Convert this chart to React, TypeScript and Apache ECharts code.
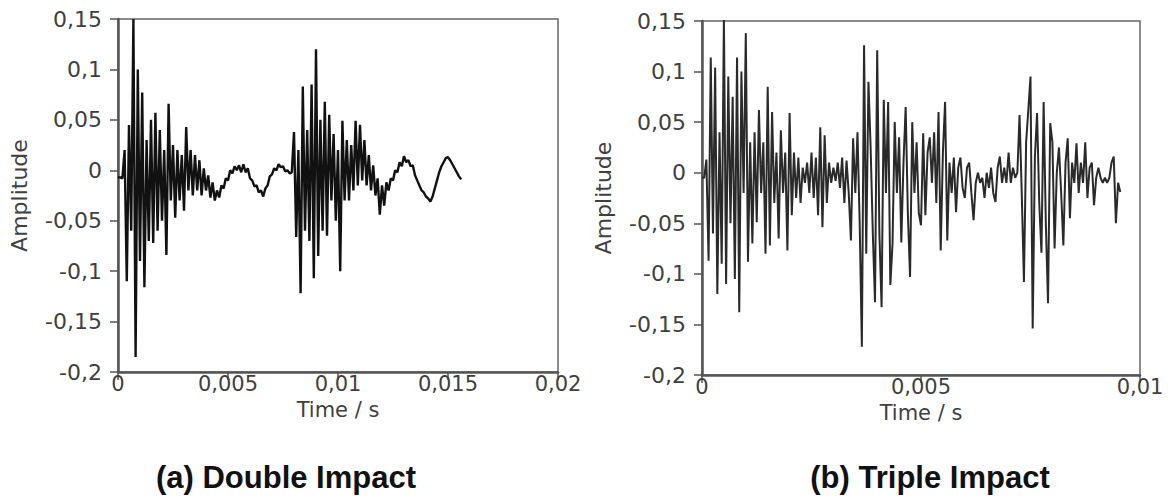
import React, { useEffect, useRef } from "react";
import * as echarts from "echarts";

// Sampling intervals (s)
const dtDouble = 0.0001;
const dtTriple = 0.00005;

// (a) Double impact – amplitude samples
const doubleAmp = [
  -0.007, -0.007, -0.008, 0.02, -0.11, 0.045, -0.06, 0.15, -0.185, 0.1,
  -0.09, 0.077, -0.116, 0.03, -0.07, 0.05, -0.072, 0.057, -0.06, 0.04,
  -0.05, 0.02, -0.084, 0.066, -0.03, 0.025, -0.047, 0.02, -0.03, 0.015,
  -0.04, 0.043, -0.02, 0.02, -0.025, 0.015, -0.02, 0.01, -0.025, 0.002,
  -0.02, -0.005, -0.027, -0.012, -0.03, -0.02, -0.027, -0.015, -0.018, -0.008,
  -0.01, 0.0, -0.003, 0.004, 0.0, 0.005, -0.002, 0.006, -0.002, 0.002,
  -0.008, -0.01, -0.016, -0.015, -0.022, -0.02, -0.026, -0.018, -0.015, -0.006,
  -0.004, 0.002, 0.0, 0.006, 0.003, 0.004, -0.001, 0.0, -0.003, -0.002,
  0.038, -0.066, 0.02, -0.122, 0.083, -0.06, 0.04, -0.07, 0.085, -0.107,
  0.12, -0.085, 0.05, -0.06, 0.068, -0.065, 0.055, -0.03, 0.036, -0.05,
  0.02, -0.1, 0.049, -0.03, 0.03, -0.03, 0.025, -0.02, 0.049, -0.015,
  0.045, -0.01, 0.03, -0.015, 0.015, -0.02, 0.005, -0.025, -0.008, -0.044,
  -0.015, -0.035, -0.012, -0.02, -0.008, -0.01, 0.0, -0.002, 0.008, 0.004,
  0.014, 0.008, 0.01, 0.004, 0.005, -0.005, -0.01, -0.015, -0.02, -0.022,
  -0.026, -0.028, -0.031, -0.026, -0.018, -0.01, -0.002, 0.004, 0.008, 0.012,
  0.013, 0.01, 0.006, 0.002, -0.002, -0.006, -0.009,
];

// (b) Triple impact – amplitude samples
const tripleAmp = [
  -0.005, -0.005, 0.013, -0.087, 0.114, -0.06, 0.104, -0.12, 0.04, -0.09,
  0.153, -0.11, 0.095, -0.05, 0.075, -0.105, 0.114, -0.138, 0.1, -0.02,
  0.138, -0.088, 0.03, -0.07, 0.04, -0.049, 0.062, -0.02, 0.03, -0.08,
  0.085, -0.072, 0.06, -0.03, 0.02, -0.065, 0.042, -0.02, 0.02, -0.077,
  0.059, -0.042, 0.02, -0.025, 0.015, -0.03, 0.005, -0.01, 0.01, -0.02,
  0.02, -0.025, 0.015, -0.042, 0.045, -0.054, 0.037, -0.03, 0.01, -0.01,
  0.005, -0.008, 0.01, -0.015, 0.015, -0.03, 0.012, -0.02, -0.067, 0.034,
  -0.02, 0.04, -0.05, -0.172, 0.126, -0.08, 0.09, 0.025, -0.06, -0.128,
  0.121, -0.06, -0.133, 0.072, -0.02, 0.07, -0.111, -0.07, 0.05, -0.02,
  0.035, -0.069, 0.01, 0.065, -0.04, -0.103, 0.05, -0.02, 0.03, -0.04,
  -0.052, 0.039, -0.042, 0.02, 0.035, -0.01, 0.04, -0.03, 0.06, -0.077,
  0.02, 0.07, -0.067, 0.01, -0.02, 0.015, -0.039, 0.005, 0.015, -0.015,
  -0.025, 0.005, 0.01, -0.02, -0.047, -0.01, 0.0, -0.01, -0.005, -0.025,
  0.0, -0.015, 0.005, -0.02, -0.029, 0.005, 0.016, -0.01, 0.005, -0.01,
  0.02, -0.01, 0.005, -0.005, 0.0, 0.057, -0.02, -0.108, 0.03, 0.062,
  0.095, -0.154, 0.015, 0.059, -0.03, -0.079, 0.07, -0.05, -0.129, 0.049,
  0.03, -0.075, 0.0, 0.025, -0.02, -0.072, 0.01, 0.034, -0.045, 0.01,
  -0.01, 0.029, -0.02, 0.01, -0.01, 0.03, -0.025, 0.005, 0.01, -0.032,
  -0.005, 0.005, -0.005, -0.01, -0.005, -0.01, -0.005, 0.01, 0.016, -0.05,
  -0.01, -0.019,
];

const titles = ["(a) Double Impact", "(b) Triple Impact"];
const xName = "Time / s";
const yName = "Amplitude";

const fmt = (v: number) => String(parseFloat(v.toFixed(4))).replace(".", ",");

export default function App() {
  const ref = useRef<HTMLDivElement>(null);
  useEffect(() => {
    if (!ref.current) return;
    const chart = echarts.init(ref.current, undefined, { renderer: "svg" });
    const font = "DejaVu Sans";
    const labelStyle = { color: "#3f3f3f", fontFamily: font, fontSize: 21 };
    const axisLine = { show: true, onZero: false, lineStyle: { color: "#555", width: 2.5 } };
    const axisTick = { show: true, inside: false, length: 8, lineStyle: { color: "#555", width: 1.5 } };
    const makeX = (gi: number, max: number) => ({
      type: "value",
      gridIndex: gi,
      min: 0,
      max,
      interval: 0.005,
      name: xName,
      nameLocation: "middle",
      nameGap: 27,
      nameTextStyle: { ...labelStyle },
      axisLine,
      axisTick,
      splitLine: { show: false },
      axisLabel: { ...labelStyle, margin: 1, formatter: (v: number) => fmt(v) },
    });
    const makeY = (gi: number) => ({
      type: "value",
      gridIndex: gi,
      min: -0.2,
      max: 0.15,
      interval: 0.05,
      name: yName,
      nameLocation: "middle",
      nameGap: 88,
      nameTextStyle: { ...labelStyle, fontSize: 22 },
      axisLine,
      axisTick,
      splitLine: { show: false },
      axisLabel: { ...labelStyle, fontSize: 22, margin: 16, formatter: (v: number) => fmt(v) },
    });
    const titleStyle = { fontFamily: "Liberation Sans", fontWeight: "bold", fontSize: 31, color: "#111" };
    chart.setOption({
      animation: false,
      backgroundColor: "#fff",
      title: [
        { text: titles[0], left: 281, top: 457, textAlign: "center", textStyle: titleStyle },
        { text: titles[1], left: 925, top: 457, textAlign: "center", textStyle: titleStyle },
      ],
      grid: [
        { left: 118, top: 19, width: 440, height: 353, show: true, borderColor: "#666", borderWidth: 1.5, containLabel: false },
        { left: 702, top: 21, width: 438, height: 354, show: true, borderColor: "#666", borderWidth: 1.5, containLabel: false },
      ],
      xAxis: [makeX(0, 0.02), makeX(1, 0.01)],
      yAxis: [makeY(0), makeY(1)],
      series: [
        {
          type: "line",
          xAxisIndex: 0,
          yAxisIndex: 0,
          showSymbol: false,
          lineStyle: { color: "#111", width: 2.4 },
          data: doubleAmp.map((v, i) => [i * dtDouble, v]),
        },
        {
          type: "line",
          xAxisIndex: 1,
          yAxisIndex: 1,
          showSymbol: false,
          lineStyle: { color: "#2a2a2a", width: 2 },
          data: tripleAmp.map((v, i) => [i * dtTriple, v]),
        },
      ],
    });
    return () => chart.dispose();
  }, []);
  return <div ref={ref} style={{ position: "fixed", left: 0, top: 0, width: 1168, height: 501 }} />;
}
